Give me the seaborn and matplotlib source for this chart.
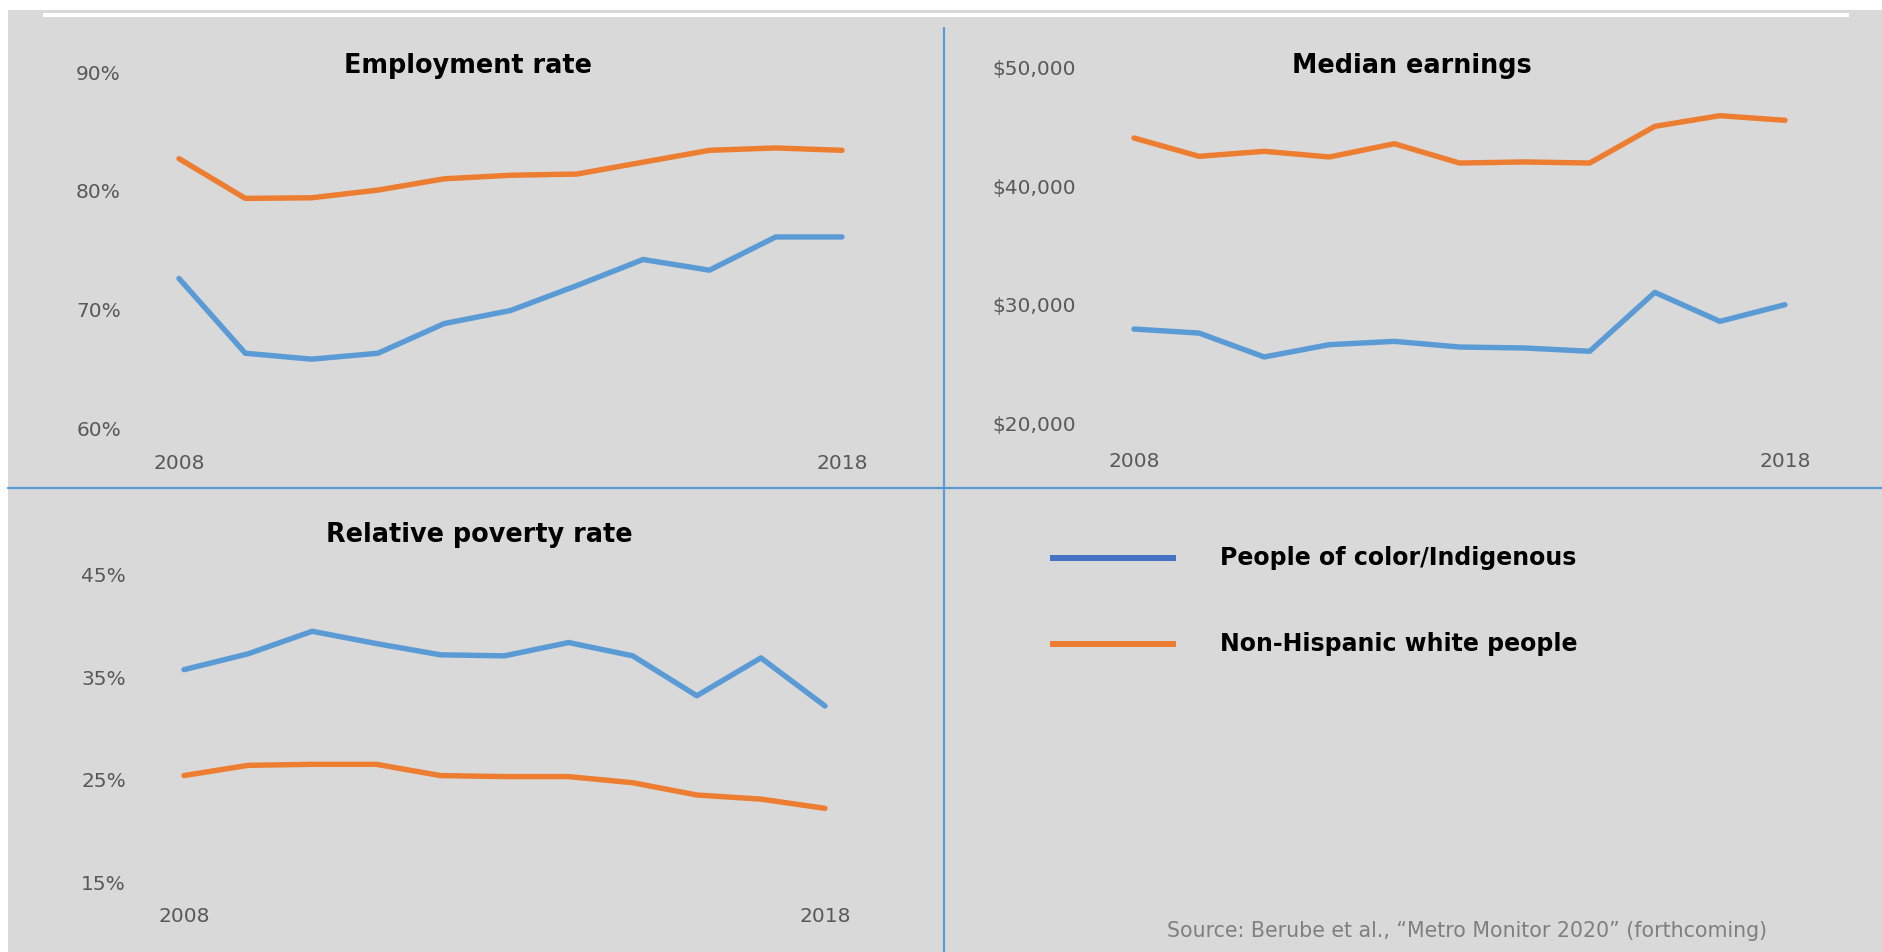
import matplotlib
matplotlib.use("Agg")
import matplotlib.pyplot as plt
import seaborn as sns
import pandas as pd
from matplotlib.lines import Line2D
from matplotlib.patches import Rectangle
from matplotlib.ticker import FuncFormatter

# ---------------- data ----------------
years = list(range(2008, 2019))
groups = ["People of color/Indigenous", "Non-Hispanic white people"]

emp_poc = [72.6, 66.3, 65.8, 66.3, 68.8, 69.9, 72.0, 74.2, 73.3, 76.1, 76.1]
emp_white = [82.7, 79.35, 79.4, 80.05, 81.0, 81.3, 81.4, 82.4, 83.4, 83.6, 83.4]
earn_poc = [27940, 27600, 25580, 26620, 26900, 26420, 26340, 26060, 31040, 28590, 30000]
earn_white = [44085, 42535, 42960, 42480, 43600, 41970, 42060, 41970, 45070, 45970, 45580]
pov_poc = [35.75, 37.3, 39.5, 38.3, 37.2, 37.1, 38.4, 37.1, 33.2, 36.9, 32.2]
pov_white = [25.4, 26.4, 26.5, 26.5, 25.4, 25.3, 25.3, 24.7, 23.5, 23.1, 22.2]

emp_ticks = [60, 70, 80, 90]
earn_ticks = [20000, 30000, 40000, 50000]
pov_ticks = [15, 25, 35, 45]
x_ticks = [2008, 2018]

titles = ["Employment rate", "Median earnings", "Relative poverty rate"]
source = "Source: Berube et al., \u201cMetro Monitor 2020\u201d (forthcoming)"

# ---------------- style ----------------
sns.set_theme(style="white")
plt.rcParams["font.family"] = ["DejaVu Sans"]

BLUE = "#5B9BD5"
ORANGE = "#ED7D31"
LEG_BLUE = "#4472C4"
BG = "#D9D9D9"
TICK = "#595959"
DIV = "#5B9BD5"

W, H = 1883, 952
fig = plt.figure(figsize=(W / 100, H / 100), dpi=100)
fig.patch.set_facecolor("white")

# background panels
fig.add_artist(Rectangle((8 / W, 0), 1 - 8 / W, 1 - 10 / H, transform=fig.transFigure,
                         facecolor=BG, edgecolor="none", zorder=0))
fig.add_artist(Rectangle((43 / W, 1 - 17 / H), (1849 - 43) / W, 4.5 / H,
                         transform=fig.transFigure, facecolor="white",
                         edgecolor="none", zorder=1))
# dividers
fig.add_artist(Line2D([944 / W, 944 / W], [0, 1 - 28 / H], transform=fig.transFigure,
                      color=DIV, lw=1.6, zorder=2))
fig.add_artist(Line2D([8 / W, 1], [1 - 488 / H, 1 - 488 / H], transform=fig.transFigure,
                      color=DIV, lw=1.6, zorder=2))


def add_panel(x08, x18, left, right, ytop, ybot, vtop, vbot):
    per = (x18 - x08) / 10.0
    xmin = 2008 - (x08 - left) / per
    xmax = 2018 + (right - x18) / per
    ax = fig.add_axes([left / W, 1 - ybot / H, (right - left) / W, (ybot - ytop) / H])
    ax.set_xlim(xmin, xmax)
    ax.set_ylim(vbot, vtop)
    ax.patch.set_alpha(0)
    for s in ax.spines.values():
        s.set_visible(False)
    return ax


def draw(ax, poc, white, yticks, fmt, xpad, title, tx, ty):
    df = pd.DataFrame({
        "year": years * 2,
        "value": poc + white,
        "group": [groups[0]] * len(years) + [groups[1]] * len(years),
    })
    sns.lineplot(data=df, x="year", y="value", hue="group", hue_order=groups,
                 palette=[BLUE, ORANGE], linewidth=3.9, legend=False, ax=ax,
                 estimator=None, sort=False)
    for ln in ax.lines:
        ln.set_clip_on(False)
        ln.set_solid_joinstyle("round")
    ax.set_xticks(x_ticks)
    ax.set_yticks(yticks)
    ax.yaxis.set_major_formatter(FuncFormatter(fmt))
    ax.tick_params(axis="both", length=0, labelsize=14.5, labelcolor=TICK)
    ax.tick_params(axis="y", pad=6.5)
    ax.tick_params(axis="x", pad=xpad)
    ax.set_xlabel("")
    ax.set_ylabel("")
    ax.grid(False)
    fig.text(tx / W, 1 - ty / H, title, ha="center", va="center",
             fontsize=18.4, fontweight="bold", color="black")


pct = lambda v, p: f"{v:.0f}%"
usd = lambda v, p: f"${v:,.0f}"

# Panel 1: employment
ax1 = add_panel(179, 842, 130, 870, 72, 428, 90, 60)
draw(ax1, emp_poc, emp_white, emp_ticks, pct, 19, titles[0], 468, 66)

# Panel 2: earnings
ax2 = add_panel(1134, 1785, 1085, 1830, 68, 423, 50000, 20000)
draw(ax2, earn_poc, earn_white, earn_ticks, usd, 21, titles[1], 1412, 66)

# Panel 3: poverty
ax3 = add_panel(184, 825, 135, 870, 575, 882, 45, 15)
draw(ax3, pov_poc, pov_white, pov_ticks, pct, 18, titles[2], 479, 535)

# Legend panel
for gy, col, lab in [(558, LEG_BLUE, groups[0]), (644, ORANGE, groups[1])]:
    fig.add_artist(Line2D([1050 / W, 1176 / W], [1 - gy / H, 1 - gy / H],
                          transform=fig.transFigure, color=col, lw=4.3,
                          solid_capstyle="butt", zorder=3))
    fig.text(1220 / W, 1 - gy / H, lab, ha="left", va="center", fontsize=17,
             fontweight="bold", color="black")

fig.text(1767 / W, 1 - 931 / H, source, ha="right", va="center", fontsize=14.8,
         color="#7F7F7F")

fig.savefig("out.png", dpi=100, facecolor=fig.get_facecolor())
